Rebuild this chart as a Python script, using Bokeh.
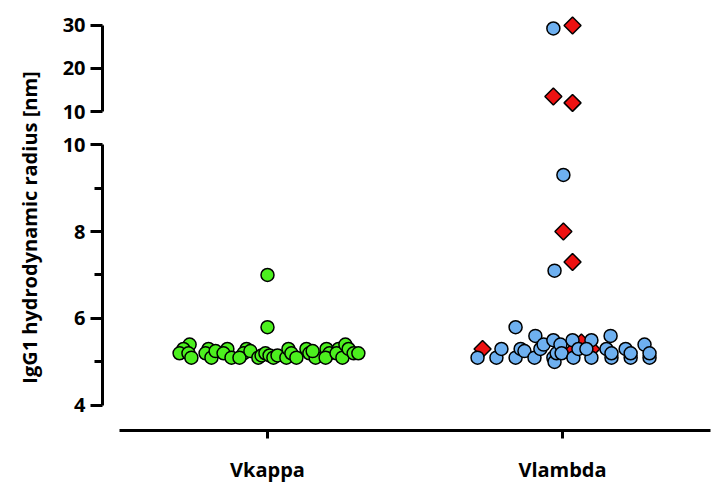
import numpy as np
from bokeh.plotting import figure
from bokeh.layouts import row, column
from bokeh.models import FixedTicker, Range1d, Title, ColumnDataSource, Spacer
from bokeh.embed import file_html
from bokeh.resources import INLINE

# ---------------- data ----------------
categories = ["Vkappa", "Vlambda"]

kappa_values = [5.4, 5.3, 5.2, 5.2, 5.1, 5.3, 5.2, 5.1, 5.25, 5.3, 5.2, 5.1,
                5.3, 5.2, 5.1, 5.25, 5.1, 5.15, 5.2, 5.15, 5.1, 5.15, 5.1, 5.3,
                5.2, 5.1, 5.3, 5.2, 5.1, 5.25, 5.3, 5.2, 5.1, 5.3, 5.2, 5.1,
                5.4, 5.3, 5.2, 5.2, 5.8, 7.0]
# horizontal swarm offsets (category units)
kappa_offsets = [-0.264, -0.285, -0.298, -0.268, -0.258, -0.200, -0.210, -0.190, -0.176,
                 -0.136, -0.149, -0.122, -0.071, -0.081, -0.095, -0.058, -0.031, -0.020,
                 -0.007, 0.007, 0.020, 0.034, 0.064, 0.071, 0.081, 0.098, 0.132, 0.142,
                 0.163, 0.153, 0.200, 0.210, 0.197, 0.241, 0.234, 0.254, 0.264, 0.275,
                 0.292, 0.308, 0.0, 0.0]

lambda_circle_values = [5.1, 5.1, 5.3, 5.8, 5.1, 5.3, 5.25, 5.1, 5.6, 5.3, 5.4, 5.5,
                        5.1, 5.0, 5.2, 5.4, 5.2, 5.5, 5.1, 5.3, 5.5, 5.1, 5.3, 5.3,
                        5.6, 5.1, 5.2, 5.3, 5.1, 5.2, 5.4, 5.1, 5.2, 7.1, 9.3, 29.3]
lambda_circle_offsets = [-0.288, -0.224, -0.207, -0.159, -0.159, -0.142, -0.129, -0.095,
                         -0.092, -0.075, -0.064, -0.031, -0.031, -0.027, -0.020, -0.007,
                         -0.003, 0.034, 0.037, 0.054, 0.098, 0.098, 0.081, 0.149, 0.163,
                         0.166, 0.166, 0.214, 0.231, 0.231, 0.278, 0.295, 0.295, -0.027,
                         0.003, -0.031]

lambda_diamond_values = [5.3, 5.2, 5.45, 5.3, 7.3, 8.0, 12.0, 13.5, 30.0]
lambda_diamond_offsets = [-0.271, 0.027, 0.064, 0.098, 0.034, 0.003, 0.034, -0.031, 0.034]

break_value = 10
lower_ticks = [4, 6, 8, 10]
lower_minor_ticks = [5, 7, 9]
upper_ticks = [10, 20, 30]
y_label = "IgG1 hydrodynamic radius [nm]"

FONT = "Open Sans"
GREEN = "#4cf01e"
BLUE = "#6eb0f0"
RED = "#ee1111"


def make_source(cat_index, values, offsets, upper):
    v = np.asarray(values, dtype=float)
    x = cat_index + np.asarray(offsets, dtype=float)
    m = v > break_value if upper else v <= break_value
    return ColumnDataSource(dict(x=x[m], y=v[m]))


def style_y(ax, ticks, minor, bounds):
    ax.ticker = FixedTicker(ticks=ticks, minor_ticks=minor)
    ax.bounds = bounds
    ax.axis_line_width = 3
    ax.axis_line_color = "black"
    ax.major_tick_line_width = 3
    ax.minor_tick_line_width = 3
    ax.major_tick_out = 12
    ax.major_tick_in = 0
    ax.minor_tick_out = 8
    ax.minor_tick_in = 0
    ax.major_label_text_font = FONT
    ax.major_label_text_font_style = "bold"
    ax.major_label_text_font_size = "20px"
    ax.major_label_text_color = "black"
    ax.major_label_standoff = 5


xr = Range1d(0.4407, 2.5186)

common = dict(output_backend="svg", toolbar_location=None, frame_width=613,
              min_border_left=51, min_border_right=0, background_fill_color="white",
              border_fill_color="white", outline_line_color=None)

up = figure(frame_height=105, x_range=xr, y_range=Range1d(8.605, 33.02),
            min_border_top=4, min_border_bottom=10, x_axis_location=None, **common)
low = figure(frame_height=300, x_range=xr, y_range=Range1d(3.425, 10.322),
             min_border_top=3, min_border_bottom=50, **common)

for fig in (up, low):
    fig.grid.visible = False

style_y(up.yaxis[0], upper_ticks, [], (10, 30))
style_y(low.yaxis[0], lower_ticks, lower_minor_ticks, (4, 10))

xa = low.xaxis[0]
xa.ticker = FixedTicker(ticks=[1, 2], minor_ticks=[])
xa.major_label_overrides = {i + 1: c for i, c in enumerate(categories)}
xa.bounds = (0.5, 2.5)
xa.axis_line_width = 3
xa.major_tick_line_width = 3
xa.major_tick_out = 8
xa.major_tick_in = 0
xa.minor_tick_out = 0
xa.major_label_text_font = FONT
xa.major_label_text_font_style = "bold"
xa.major_label_text_font_size = "20px"
xa.major_label_text_color = "black"
xa.major_label_standoff = 17

for fig, is_up in ((up, True), (low, False)):
    fig.scatter("x", "y", source=make_source(1, kappa_values, kappa_offsets, is_up),
                marker="circle", size=13, fill_color=GREEN, line_color="black", line_width=1.5)
    fig.scatter("x", "y", source=make_source(2, lambda_diamond_values, lambda_diamond_offsets, is_up),
                marker="square", angle=np.pi / 4, size=12, fill_color=RED,
                line_color="black", line_width=1.5)
    fig.scatter("x", "y", source=make_source(2, lambda_circle_values, lambda_circle_offsets, is_up),
                marker="circle", size=13, fill_color=BLUE, line_color="black", line_width=1.5)

lab = figure(frame_width=4, frame_height=420, min_border_top=9, min_border_bottom=43,
             min_border_left=0, min_border_right=0, output_backend="svg",
             toolbar_location=None, x_axis_location=None, y_axis_location=None,
             outline_line_color=None, background_fill_color="white", border_fill_color="white")
lab.grid.visible = False
lab.add_layout(Title(text=y_label, align="center", text_font=FONT, text_font_style="bold",
                     text_font_size="20px", text_color="black"), "left")

layout = column(Spacer(height=8),
                row(Spacer(width=8), lab, column(up, low, spacing=0), spacing=0),
                spacing=0)

open("out.html", "w").write(file_html(layout, INLINE))
